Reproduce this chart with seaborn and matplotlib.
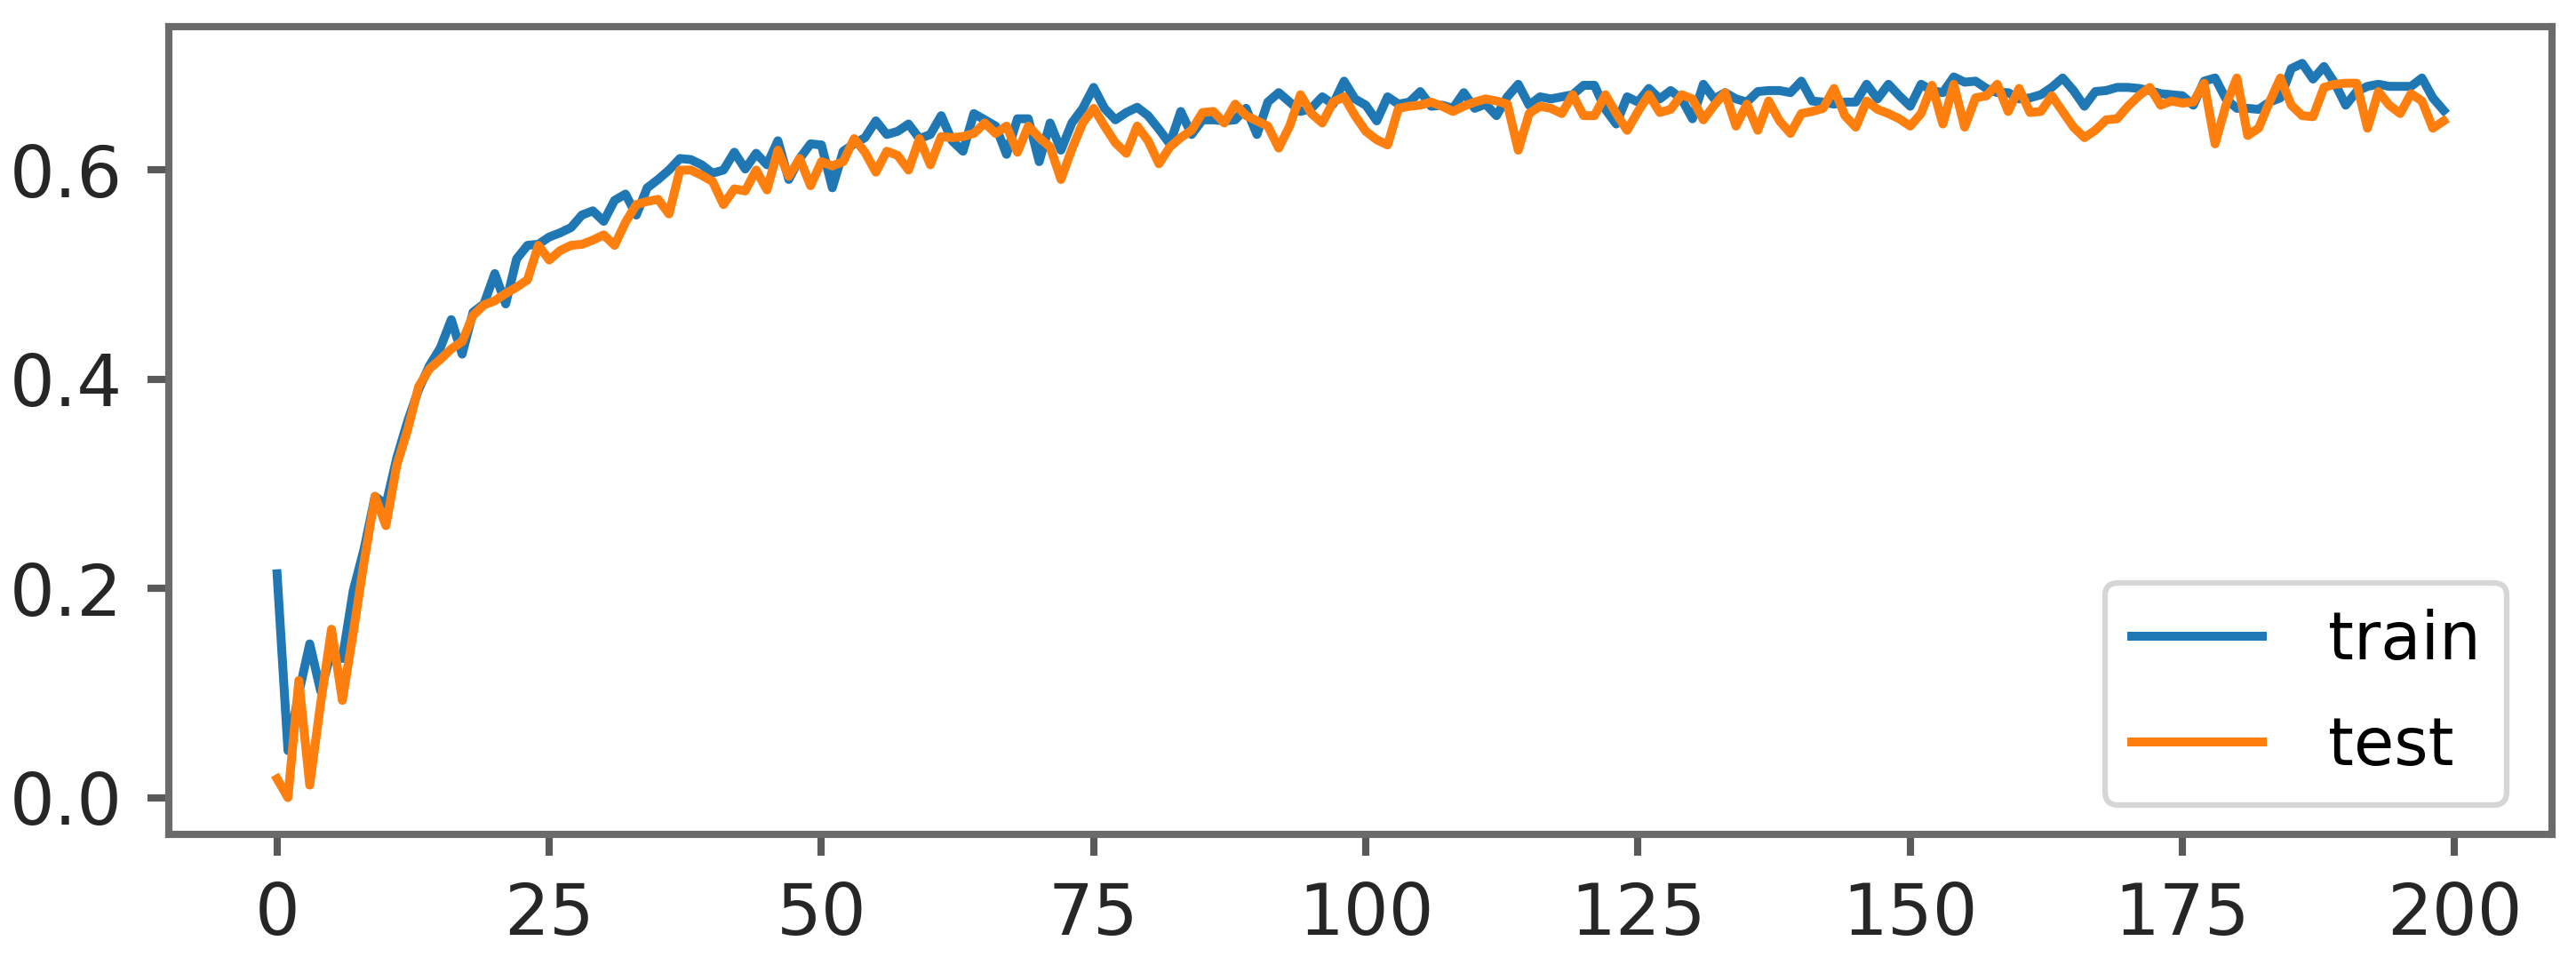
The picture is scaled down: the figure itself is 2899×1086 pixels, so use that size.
import numpy as np
import pandas as pd
import matplotlib
matplotlib.use("Agg")
import matplotlib.pyplot as plt
import seaborn as sns

# ---------- DATA ----------
epochs = list(range(200))

train_acc = [
    0.214, 0.045, 0.100, 0.147, 0.102, 0.140, 0.133, 0.198, 0.238, 0.288,
    0.280, 0.325, 0.360, 0.390, 0.413, 0.430, 0.457, 0.424, 0.464, 0.472,
    0.501, 0.472, 0.515, 0.528, 0.529, 0.536, 0.540, 0.545, 0.557, 0.561,
    0.551, 0.571, 0.577, 0.557, 0.583, 0.591, 0.600, 0.611, 0.610, 0.605,
    0.597, 0.600, 0.617, 0.601, 0.616, 0.605, 0.628, 0.591, 0.611, 0.625,
    0.624, 0.583, 0.618, 0.625, 0.631, 0.647, 0.634, 0.637, 0.644, 0.630,
    0.634, 0.652, 0.628, 0.618, 0.654, 0.648, 0.642, 0.615, 0.649, 0.649,
    0.608, 0.645, 0.619, 0.645, 0.659, 0.679, 0.659, 0.648, 0.655, 0.660,
    0.652, 0.639, 0.625, 0.656, 0.634, 0.648, 0.648, 0.647, 0.648, 0.659,
    0.634, 0.665, 0.674, 0.665, 0.656, 0.659, 0.670, 0.663, 0.685, 0.668,
    0.662, 0.647, 0.670, 0.663, 0.665, 0.675, 0.661, 0.662, 0.659, 0.674,
    0.659, 0.663, 0.652, 0.670, 0.682, 0.662, 0.670, 0.668, 0.670, 0.672,
    0.681, 0.681, 0.658, 0.644, 0.670, 0.665, 0.678, 0.668, 0.676, 0.668,
    0.649, 0.682, 0.668, 0.674, 0.668, 0.665, 0.675, 0.676, 0.676, 0.674,
    0.685, 0.666, 0.665, 0.663, 0.665, 0.665, 0.682, 0.668, 0.682, 0.671,
    0.661, 0.682, 0.676, 0.674, 0.689, 0.684, 0.685, 0.678, 0.674, 0.674,
    0.668, 0.669, 0.672, 0.679, 0.688, 0.676, 0.661, 0.675, 0.676, 0.679,
    0.679, 0.678, 0.676, 0.673, 0.672, 0.671, 0.662, 0.685, 0.688, 0.668,
    0.659, 0.659, 0.658, 0.665, 0.669, 0.697, 0.702, 0.687, 0.699, 0.683,
    0.662, 0.675, 0.680, 0.682, 0.680, 0.680, 0.680, 0.688, 0.669, 0.657,
]

test_acc = [
    0.018, 0.000, 0.112, 0.012, 0.090, 0.161, 0.093, 0.158, 0.226, 0.288,
    0.260, 0.318, 0.352, 0.393, 0.410, 0.419, 0.429, 0.436, 0.461, 0.471,
    0.475, 0.482, 0.488, 0.495, 0.528, 0.514, 0.523, 0.528, 0.529, 0.533,
    0.538, 0.528, 0.550, 0.567, 0.570, 0.572, 0.558, 0.600, 0.600, 0.595,
    0.589, 0.567, 0.582, 0.580, 0.600, 0.581, 0.619, 0.594, 0.611, 0.585,
    0.608, 0.604, 0.608, 0.630, 0.617, 0.598, 0.618, 0.614, 0.600, 0.630,
    0.605, 0.632, 0.631, 0.632, 0.635, 0.645, 0.635, 0.642, 0.617, 0.642,
    0.631, 0.622, 0.591, 0.620, 0.645, 0.659, 0.642, 0.626, 0.616, 0.642,
    0.628, 0.606, 0.622, 0.631, 0.638, 0.655, 0.656, 0.645, 0.663, 0.652,
    0.647, 0.642, 0.621, 0.642, 0.672, 0.654, 0.645, 0.665, 0.670, 0.652,
    0.637, 0.629, 0.624, 0.659, 0.661, 0.662, 0.665, 0.661, 0.656, 0.661,
    0.665, 0.668, 0.666, 0.663, 0.619, 0.654, 0.661, 0.659, 0.654, 0.672,
    0.652, 0.652, 0.672, 0.654, 0.638, 0.656, 0.672, 0.655, 0.658, 0.672,
    0.668, 0.648, 0.662, 0.674, 0.642, 0.663, 0.638, 0.666, 0.647, 0.635,
    0.654, 0.656, 0.659, 0.678, 0.652, 0.641, 0.666, 0.658, 0.654, 0.649,
    0.642, 0.654, 0.681, 0.644, 0.682, 0.641, 0.669, 0.671, 0.682, 0.656,
    0.678, 0.655, 0.656, 0.671, 0.656, 0.641, 0.631, 0.638, 0.648, 0.649,
    0.661, 0.671, 0.679, 0.662, 0.666, 0.664, 0.665, 0.683, 0.625, 0.662,
    0.688, 0.633, 0.640, 0.665, 0.688, 0.662, 0.652, 0.651, 0.679, 0.682,
    0.683, 0.683, 0.640, 0.675, 0.662, 0.654, 0.673, 0.666, 0.640, 0.647,
]

series_names = ["train", "test"]
colors = ["#1f77b4", "#ff7f0e"]

df = pd.DataFrame({
    "epoch": epochs * 2,
    "acc": train_acc + test_acc,
    "set": ["train"] * len(epochs) + ["test"] * len(epochs),
})

# ---------- STYLE ----------
plt.rcParams["font.family"] = ["DejaVu Sans"]
plt.rcParams["axes.linewidth"] = 1.3
plt.rcParams["axes.edgecolor"] = "0.42"

DPI = 450
fig = plt.figure(figsize=(2899 / DPI, 1086 / DPI), dpi=DPI)
ax = fig.add_axes([0.0655, 0.1354, 0.9907 - 0.0655, 0.9724 - 0.1354])

sns.lineplot(data=df, x="epoch", y="acc", hue="set", hue_order=series_names,
             palette=colors, linewidth=1.6, ax=ax)

ax.set_xlabel("")
ax.set_ylabel("")
ax.set_xticks([0, 25, 50, 75, 100, 125, 150, 175, 200])
ax.set_yticks([0.0, 0.2, 0.4, 0.6])
ax.set_yticklabels(["0.0", "0.2", "0.4", "0.6"])
ax.tick_params(axis="both", labelsize=12.8, labelcolor="0.15", color="0.35",
               width=1.3, length=3.8, pad=4.5)

handles, labels = ax.get_legend_handles_labels()
ax.legend(handles, labels, loc="lower right", bbox_to_anchor=(0.981, 0.036),
          borderaxespad=0, fontsize=11.8, labelspacing=0.62,
          handlelength=2.0, handletextpad=1.0)

fig.savefig("out.png", dpi=DPI)
